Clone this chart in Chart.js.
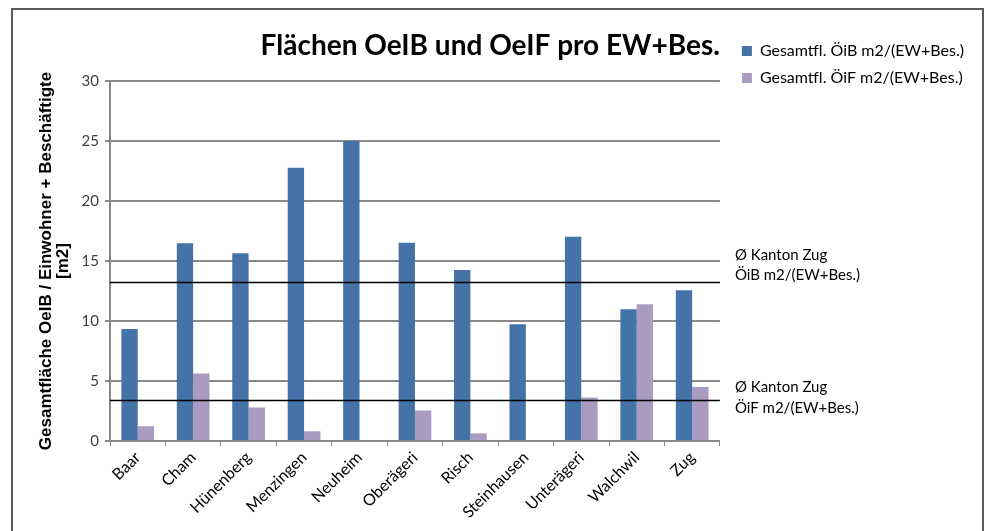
<!DOCTYPE html>
<html>
<head>
<meta charset="utf-8">
<title>Flächen OeIB und OeIF pro EW+Bes.</title>
<script src="https://cdn.jsdelivr.net/npm/chart.js@4.4.1/dist/chart.umd.min.js"></script>
<style>
  html, body { margin: 0; padding: 0; background: #fff; }
  #wrap { position: relative; width: 986px; height: 531px; overflow: hidden; }
  #frame {
    position: absolute; left: 11px; top: 8px; width: 969px; height: 600px;
    border: 2px solid #5a5a5a; pointer-events: none;
  }
  canvas { position: absolute; left: 0; top: 0; }
</style>
</head>
<body>
<div id="wrap">
  <canvas id="chart" width="986" height="531"></canvas>
  <div id="frame"></div>
</div>
<script>
(function () {
  'use strict';

  // Data
  var categories = ['Baar', 'Cham', 'Hünenberg', 'Menzingen', 'Neuheim', 'Oberägeri',
    'Risch', 'Steinhausen', 'Unterägeri', 'Walchwil', 'Zug'];
  var oibValues = [9.34, 16.48, 15.64, 22.78, 25.0, 16.53, 14.25, 9.73, 17.03, 10.98, 12.57];
  var oifValues = [1.23, 5.63, 2.79, 0.81, 0, 2.54, 0.64, 0, 3.62, 11.40, 4.49];
  var seriesLabels = ['Gesamtfl. ÖiB m2/(EW+Bes.)', 'Gesamtfl. ÖiF m2/(EW+Bes.)'];
  // Kanton Zug averages (horizontal reference lines)
  var kantonAverages = [13.24, 3.45];
  var kantonLabels = [['Ø Kanton Zug', 'ÖiB m2/(EW+Bes.)'], ['Ø Kanton Zug', 'ÖiF m2/(EW+Bes.)']];
  var yMin = 0, yMax = 30, yStep = 5;

  var FONT = 'Lato, "Open Sans", sans-serif';

  // Draws the two average lines and their captions right of the plot
  var averageLines = {
    id: 'averageLines',
    afterDatasetsDraw: function (chart) {
      var ctx = chart.ctx;
      var area = chart.chartArea;
      var y = chart.scales.y;
      var textOffsets = [[-27, -7], [-13, 8]];
      ctx.save();
      kantonAverages.forEach(function (v, i) {
        var py = Math.round(y.getPixelForValue(v)) + 0.5;
        ctx.strokeStyle = '#000';
        ctx.lineWidth = 1.5;
        ctx.beginPath();
        ctx.moveTo(area.left, py);
        ctx.lineTo(area.right, py);
        ctx.stroke();

        ctx.fillStyle = '#000';
        ctx.font = '15px ' + FONT;
        ctx.textAlign = 'left';
        ctx.textBaseline = 'middle';
        ctx.fillText(kantonLabels[i][0], area.right + 15, py + textOffsets[i][0]);
        ctx.fillText(kantonLabels[i][1], area.right + 15, py + textOffsets[i][1]);
      });
      ctx.restore();
    }
  };

  new Chart(document.getElementById('chart'), {
    type: 'bar',
    data: {
      labels: categories,
      datasets: [
        {
          label: seriesLabels[0],
          data: oibValues,
          backgroundColor: '#4573A8',
          borderWidth: 0,
          barPercentage: 1,
          categoryPercentage: 0.59
        },
        {
          label: seriesLabels[1],
          data: oifValues,
          backgroundColor: '#A99CC0',
          borderWidth: 0,
          barPercentage: 1,
          categoryPercentage: 0.59
        }
      ]
    },
    options: {
      responsive: false,
      animation: false,
      devicePixelRatio: 1,
      layout: { padding: { left: 0, right: 12, top: 32, bottom: 0 } },
      plugins: {
        title: {
          display: true,
          text: 'Flächen OeIB und OeIF pro EW+Bes.',
          position: 'top',
          fullSize: false,
          align: 'end',
          color: '#000',
          font: { family: FONT, size: 28, weight: 'bold', lineHeight: 1 },
          padding: { top: 0, bottom: 21 }
        },
        legend: {
          display: true,
          position: 'right',
          align: 'start',
          maxWidth: 320,
          labels: {
            color: '#000',
            font: { family: FONT, size: 16 },
            boxWidth: 10,
            boxHeight: 10,
            padding: 11
          }
        },
        tooltip: { enabled: false }
      },
      scales: {
        x: {
          grid: {
            display: true,
            drawOnChartArea: false,
            drawTicks: true,
            tickLength: 5,
            color: '#888'
          },
          border: { display: true, color: '#888', width: 1.5 },
          ticks: {
            color: '#000',
            font: { family: FONT, size: 16 },
            minRotation: 45,
            maxRotation: 45,
            padding: 2
          },
          afterFit: function (scale) { scale.height = 90; }
        },
        y: {
          min: yMin,
          max: yMax,
          ticks: {
            stepSize: yStep,
            color: '#404040',
            font: { family: FONT, size: 15 },
            padding: 6
          },
          grid: {
            color: '#8a8a8a',
            lineWidth: 2,
            tickLength: 5
          },
          border: { display: true, color: '#888', width: 2 },
          title: {
            display: true,
            text: ['Gesamtfläche OeIB / Einwohner + Beschäftigte', '[m2]'],
            color: '#000',
            font: { family: '"Liberation Sans", Arial, sans-serif', size: 17, weight: 'bold', lineHeight: 1 },
            padding: { top: 38, bottom: 0 }
          },
          afterFit: function (scale) { scale.width = 110; }
        },
        // empty spacer between plot and legend
        spacer: {
          type: 'linear',
          position: 'right',
          display: true,
          ticks: { display: false },
          grid: { display: false, drawTicks: false },
          border: { display: false },
          afterFit: function (scale) { scale.width = 11; }
        }
      }
    },
    plugins: [averageLines]
  });
})();
</script>
</body>
</html>
